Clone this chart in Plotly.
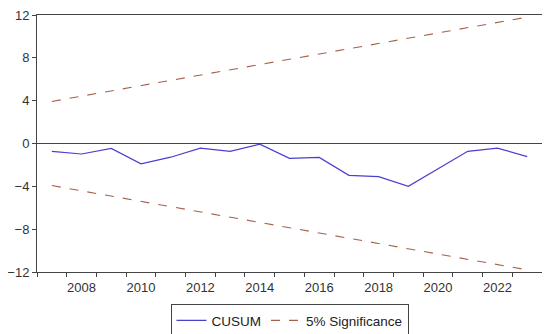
import plotly.graph_objects as go

years = list(range(2007, 2024))
cusum = [-0.73, -0.98, -0.46, -1.9, -1.28, -0.43, -0.73, -0.06, -1.38, -1.3,
         -2.97, -3.09, -4.0, -2.35, -0.73, -0.43, -1.22]
upper = [3.93, 4.42, 4.91, 5.41, 5.90, 6.39, 6.88, 7.37, 7.86, 8.36,
         8.85, 9.34, 9.83, 10.32, 10.81, 11.31, 11.80]
lower = [-3.93, -4.42, -4.91, -5.41, -5.90, -6.39, -6.88, -7.37, -7.86, -8.36,
         -8.85, -9.34, -9.83, -10.32, -10.81, -11.31, -11.80]
year_labels = [2008, 2010, 2012, 2014, 2016, 2018, 2020, 2022]
y_ticks = [-12, -8, -4, 0, 4, 8, 12]

axis_col = "#444444"
sig_col = "#A8604A"

fig = go.Figure()
fig.add_trace(go.Scatter(x=years, y=cusum, mode="lines", name="CUSUM",
                         line=dict(color="#4A3FD0", width=1.2)))
fig.add_trace(go.Scatter(x=years, y=upper, mode="lines", name="5% Significance",
                         line=dict(color=sig_col, width=1.1, dash="dash")))
fig.add_trace(go.Scatter(x=years, y=lower, mode="lines", showlegend=False,
                         line=dict(color=sig_col, width=1.1, dash="dash")))

half_years = [y - 0.5 for y in years] + [years[-1] + 0.5]

fig.update_layout(
    width=542, height=326,
    margin=dict(l=29, r=8, t=7, b=62, autoexpand=False),
    paper_bgcolor="white", plot_bgcolor="white",
    font=dict(family="Liberation Sans, Arial, sans-serif", size=13, color="#333333"),
    showlegend=True,
    legend=dict(orientation="h", x=0.5, xanchor="center", y=-0.125, yanchor="top",
                bordercolor=axis_col, borderwidth=1, bgcolor="white",
                font=dict(size=13.5, color="#222222"), itemwidth=30,
                tracegroupgap=0),
    xaxis=dict(range=[2006.5, 2023.5], tickvals=year_labels,
               ticktext=[str(v) for v in year_labels], ticks="",
               ticklabelstandoff=3, automargin=False,
               showgrid=False, zeroline=False, showline=True, linecolor=axis_col,
               linewidth=1, mirror=True,
               minor=dict(tickvals=half_years, ticks="outside", ticklen=4,
                          tickcolor=axis_col, showgrid=False)),
    yaxis=dict(range=[-12, 12], tickvals=y_ticks, ticks="outside", ticklen=4,
               tickcolor=axis_col, showgrid=False, zeroline=True,
               automargin=False, ticklabeloverflow="allow",
               zerolinecolor=axis_col, zerolinewidth=1, showline=True,
               linecolor=axis_col, linewidth=1, mirror=True),
)

fig.write_html("out.html")
